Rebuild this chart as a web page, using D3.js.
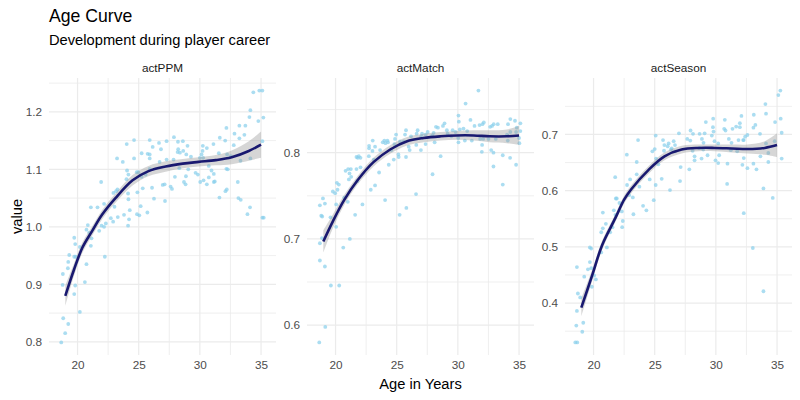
<!DOCTYPE html>
<html>
<head>
<meta charset="utf-8">
<script src="https://cdn.jsdelivr.net/npm/d3@7"></script>
<style>
  body { margin: 0; background: #fff; }
  svg text { font-family: "Liberation Sans", Arial, sans-serif; }
</style>
</head>
<body>
<svg id="chart" width="800" height="400"></svg>
<script>
// facets, in order
const facets = ["actPPM", "actMatch", "actSeason"];

// x ticks (age), shared
const xTicks = [20, 25, 30, 35];

// y ticks per facet (free scales)
const ppmTicks = [0.8, 0.9, 1.0, 1.1, 1.2];
const matchTicks = [0.6, 0.7, 0.8];
const seasonTicks = [0.4, 0.5, 0.6, 0.7];

// scatter: [age, value]
const ppmPoints = [[34.37,1.234],[34.86,1.237],[35.11,1.237],[34.13,1.203],[34.05,1.191],[34.78,1.184],[35.19,1.190],[35.11,1.149],[32.17,1.172],[33.23,1.176],[33.72,1.176],[32.83,1.162],[33.23,1.154],[33.64,1.160],[32.77,1.142],[32.07,1.150],[31.63,1.155],[31.11,1.144],[30.24,1.141],[30.57,1.137],[30.22,1.132],[30.14,1.126],[30.00,1.120],[30.27,1.120],[31.55,1.128],[32.23,1.126],[32.53,1.123],[34.13,1.119],[33.32,1.115],[27.88,1.156],[27.28,1.149],[28.21,1.148],[28.61,1.149],[28.99,1.141],[28.64,1.132],[28.23,1.135],[28.18,1.130],[28.37,1.129],[29.27,1.122],[28.89,1.126],[26.66,1.146],[26.14,1.139],[26.82,1.135],[25.90,1.151],[24.62,1.151],[24.02,1.144],[25.24,1.128],[25.73,1.127],[25.90,1.126],[25.90,1.119],[24.62,1.119],[23.70,1.113],[23.23,1.119],[26.71,1.113],[27.28,1.117],[27.85,1.117],[28.32,1.102],[29.05,1.100],[28.86,1.088],[29.65,1.094],[29.84,1.091],[30.73,1.106],[30.95,1.098],[31.14,1.092],[31.22,1.079],[30.73,1.086],[30.03,1.078],[30.30,1.081],[30.57,1.074],[31.14,1.078],[32.17,1.101],[32.28,1.100],[31.60,1.051],[32.09,1.062],[32.20,1.065],[33.10,1.078],[33.15,1.050],[33.34,1.047],[34.10,1.034],[33.89,1.022],[35.11,1.016],[35.22,1.016],[27.96,1.087],[28.70,1.078],[28.83,1.074],[27.61,1.070],[27.72,1.066],[26.96,1.073],[27.12,1.074],[27.15,1.045],[26.25,1.049],[26.09,1.068],[25.33,1.067],[24.89,1.060],[24.05,1.098],[24.16,1.091],[24.84,1.095],[24.97,1.095],[25.90,1.101],[25.57,1.091],[25.24,1.087],[21.93,1.078],[24.00,1.083],[23.26,1.065],[23.15,1.062],[22.93,1.059],[24.13,1.058],[24.16,1.048],[22.17,1.040],[21.63,1.034],[21.09,1.034],[23.02,1.035],[24.27,1.029],[25.16,1.036],[24.86,1.022],[25.05,1.020],[25.71,1.025],[22.72,1.015],[23.29,1.017],[23.80,1.021],[24.21,1.013],[22.91,1.009],[22.31,1.006],[21.96,1.002],[22.17,1.000],[24.13,1.002],[20.84,1.003],[20.73,0.995],[20.95,0.990],[21.77,0.993],[21.14,0.980],[21.09,0.967],[19.73,0.981],[19.81,0.970],[20.19,0.965],[19.32,0.951],[19.73,0.948],[19.86,0.948],[22.23,0.948],[20.73,0.935],[19.24,0.939],[19.21,0.928],[18.80,0.918],[20.60,0.904],[18.78,0.899],[19.81,0.898],[19.73,0.883],[20.19,0.852],[18.83,0.841],[19.24,0.831],[18.99,0.815],[18.67,0.799]];

const matchPoints = [[31.68,0.872],[30.63,0.857],[30.05,0.843],[30.08,0.836],[31.03,0.838],[28.91,0.834],[28.78,0.831],[28.21,0.830],[28.37,0.829],[30.46,0.828],[30.16,0.827],[30.76,0.825],[31.36,0.831],[31.77,0.832],[32.01,0.833],[32.12,0.835],[32.64,0.830],[32.80,0.831],[32.93,0.833],[33.26,0.833],[34.10,0.833],[34.29,0.839],[34.67,0.837],[35.11,0.834],[34.81,0.829],[34.76,0.824],[35.11,0.825],[35.00,0.817],[35.03,0.811],[34.29,0.824],[34.02,0.821],[34.08,0.814],[33.10,0.816],[32.50,0.816],[32.07,0.816],[31.82,0.816],[31.14,0.814],[30.57,0.814],[30.05,0.812],[30.03,0.817],[29.46,0.819],[29.57,0.826],[29.81,0.824],[29.10,0.826],[29.16,0.822],[28.02,0.823],[27.91,0.820],[27.53,0.824],[27.36,0.821],[27.07,0.822],[27.01,0.819],[26.71,0.826],[26.63,0.822],[26.17,0.819],[25.76,0.826],[25.68,0.821],[24.95,0.821],[24.86,0.816],[24.24,0.814],[23.99,0.814],[23.86,0.812],[24.08,0.811],[24.29,0.812],[24.81,0.810],[25.27,0.813],[25.57,0.813],[25.98,0.807],[26.06,0.803],[26.60,0.809],[26.98,0.803],[27.36,0.810],[28.10,0.812],[28.59,0.796],[27.93,0.775],[26.58,0.752],[25.79,0.736],[25.24,0.728],[24.05,0.745],[22.88,0.757],[23.23,0.762],[23.56,0.777],[24.35,0.786],[24.76,0.792],[25.16,0.795],[25.76,0.795],[25.14,0.798],[24.57,0.803],[23.64,0.803],[23.23,0.807],[22.74,0.808],[22.74,0.805],[23.04,0.814],[23.02,0.802],[23.13,0.792],[22.72,0.796],[22.04,0.783],[21.71,0.781],[21.03,0.781],[21.25,0.781],[20.82,0.779],[21.14,0.776],[21.09,0.769],[21.28,0.772],[21.77,0.767],[20.11,0.765],[20.27,0.763],[20.16,0.757],[19.78,0.755],[19.97,0.753],[18.97,0.747],[19.13,0.741],[18.72,0.739],[20.05,0.740],[20.71,0.748],[22.20,0.740],[21.60,0.728],[18.83,0.727],[18.91,0.726],[19.59,0.725],[21.71,0.795],[21.82,0.794],[21.90,0.796],[22.04,0.794],[31.98,0.809],[31.96,0.801],[32.72,0.803],[32.91,0.800],[33.67,0.797],[34.27,0.794],[34.76,0.786],[32.91,0.784],[33.67,0.763],[20.05,0.714],[18.89,0.701],[18.72,0.695],[21.17,0.700],[20.63,0.690],[18.72,0.675],[19.13,0.668],[19.62,0.646],[20.30,0.646],[19.16,0.598],[18.67,0.580],[21.00,0.743]];

const seasonPoints = [[35.27,0.778],[35.11,0.770],[34.05,0.754],[34.10,0.737],[35.30,0.728],[35.38,0.703],[34.84,0.722],[33.10,0.735],[33.23,0.717],[33.07,0.712],[32.09,0.733],[31.96,0.720],[31.96,0.713],[31.66,0.714],[31.36,0.710],[30.79,0.707],[30.68,0.710],[30.73,0.726],[29.78,0.728],[29.18,0.722],[29.76,0.713],[29.81,0.705],[29.67,0.698],[29.08,0.702],[28.67,0.701],[28.13,0.701],[27.93,0.707],[27.91,0.689],[27.66,0.692],[26.98,0.702],[28.86,0.692],[28.99,0.685],[29.89,0.688],[30.19,0.684],[31.06,0.692],[31.28,0.685],[31.85,0.690],[32.23,0.690],[32.58,0.699],[32.39,0.696],[32.28,0.690],[33.61,0.701],[34.10,0.684],[34.29,0.667],[34.29,0.651],[34.81,0.688],[35.38,0.657],[33.64,0.661],[33.07,0.648],[33.32,0.638],[32.58,0.640],[32.17,0.646],[32.28,0.658],[31.74,0.670],[31.22,0.672],[30.95,0.648],[30.92,0.612],[30.19,0.649],[29.97,0.654],[30.27,0.663],[29.32,0.663],[28.83,0.657],[28.26,0.654],[28.26,0.661],[28.97,0.673],[28.64,0.676],[28.10,0.671],[27.83,0.638],[27.12,0.642],[27.07,0.617],[26.25,0.601],[26.66,0.670],[26.39,0.675],[26.66,0.681],[26.55,0.688],[26.14,0.684],[26.06,0.679],[25.76,0.671],[25.68,0.690],[25.08,0.698],[25.00,0.674],[24.81,0.670],[25.11,0.657],[25.30,0.647],[25.57,0.621],[24.59,0.620],[25.08,0.610],[24.92,0.583],[24.32,0.565],[24.05,0.573],[23.75,0.607],[23.53,0.629],[23.53,0.651],[23.64,0.690],[22.72,0.664],[22.99,0.620],[22.74,0.610],[21.77,0.624],[21.82,0.586],[21.90,0.586],[22.12,0.578],[22.91,0.592],[23.21,0.588],[23.26,0.558],[22.39,0.546],[20.76,0.561],[21.66,0.565],[21.79,0.557],[32.28,0.560],[33.89,0.604],[34.65,0.587],[25.79,0.681],[26.33,0.673],[22.34,0.535],[21.55,0.535],[20.76,0.533],[21.01,0.541],[20.63,0.526],[21.36,0.526],[21.09,0.499],[19.70,0.499],[19.81,0.497],[20.63,0.490],[19.70,0.473],[18.64,0.464],[19.54,0.460],[19.81,0.462],[19.24,0.447],[20.05,0.449],[20.19,0.442],[19.86,0.429],[18.72,0.417],[18.91,0.410],[18.64,0.386],[19.16,0.365],[18.59,0.360],[19.08,0.349],[18.51,0.330],[18.67,0.330],[33.02,0.498],[33.89,0.421],[22.31,0.563]];

// smoother (loess fit): age, fit, half-width of the band
const ppmSmoothAge = [19, 19.7, 20.4, 21.2, 22, 23.1, 24.5, 25.8, 27.2, 28.6, 29.9, 31.3, 32.6, 34, 35];
const ppmFit = [0.880, 0.925, 0.964, 0.993, 1.021, 1.050, 1.081, 1.097, 1.105, 1.110, 1.113, 1.116, 1.121, 1.132, 1.143];
const ppmSe = [0.018, 0.011, 0.009, 0.008, 0.008, 0.008, 0.009, 0.009, 0.009, 0.008, 0.008, 0.009, 0.012, 0.017, 0.023];

const matchSmoothAge = [19, 19.8, 20.7, 21.8, 23.1, 24.5, 25.8, 27.2, 28.6, 29.9, 31.3, 32.6, 34, 35];
const matchFit = [0.697, 0.721, 0.745, 0.768, 0.789, 0.804, 0.813, 0.817, 0.819, 0.820, 0.820, 0.819, 0.819, 0.820];
const matchSe = [0.013, 0.008, 0.006, 0.005, 0.005, 0.005, 0.005, 0.005, 0.005, 0.005, 0.006, 0.007, 0.008, 0.011];

const seasonSmoothAge = [19, 19.9, 20.7, 21.8, 22.5, 23.1, 24.5, 25.8, 27.2, 28.6, 29.9, 31.3, 32.6, 34, 35];
const seasonFit = [0.392, 0.450, 0.503, 0.552, 0.584, 0.603, 0.637, 0.661, 0.673, 0.676, 0.676, 0.675, 0.674, 0.676, 0.681];
const seasonSe = [0.016, 0.010, 0.008, 0.007, 0.007, 0.007, 0.007, 0.007, 0.007, 0.006, 0.006, 0.007, 0.008, 0.012, 0.021];

const panels = [
  {name: facets[0], points: ppmPoints, ticks: ppmTicks, sAge: ppmSmoothAge, fit: ppmFit, se: ppmSe},
  {name: facets[1], points: matchPoints, ticks: matchTicks, sAge: matchSmoothAge, fit: matchFit, se: matchSe},
  {name: facets[2], points: seasonPoints, ticks: seasonTicks, sAge: seasonSmoothAge, fit: seasonFit, se: seasonSe}
];

const layout = {left: 49, right: 792, top: 78, bottom: 355, gap: 31};
const panelW = (layout.right - layout.left - 2 * layout.gap) / 3;

const grid = "#ebebeb";
const pointColor = "#87ceeb";
const lineColor = "#191970";
const base = 14.7;

// ggplot-like 5% expansion
function expand(ext) {
  let pad = (ext[1] - ext[0]) * 0.05;
  return [ext[0] - pad, ext[1] + pad];
}

function minorOf(ticks, domain) {
  let step = ticks[1] - ticks[0];
  let out = [];
  for (let t = ticks[0] - step / 2; t <= domain[1]; t += step) {
    if (t >= domain[0]) out.push(t);
  }
  return out;
}

const allAges = panels.flatMap(p => p.points.map(d => d[0]));
const xDomain = expand(d3.extent(allAges));

const svg = d3.select("#chart");

svg.append("text")
  .attr("x", layout.left).attr("y", 22)
  .attr("font-size", (base * 1.2) + "px").attr("fill", "#000")
  .text("Age Curve");

svg.append("text")
  .attr("x", layout.left).attr("y", 45)
  .attr("font-size", base + "px").attr("fill", "#000")
  .text("Development during player career");

panels.forEach(function(p, i) {
  let x0 = layout.left + i * (panelW + layout.gap);
  let x = d3.scaleLinear().domain(xDomain).range([x0, x0 + panelW]);
  let yDomain = expand(d3.extent(p.points, d => d[1]));
  let y = d3.scaleLinear().domain(yDomain).range([layout.bottom, layout.top]);

  let g = svg.append("g").attr("class", "panel");

  // minor grid
  g.selectAll("line.xminor").data(minorOf(xTicks, xDomain)).join("line")
    .attr("x1", d => x(d)).attr("x2", d => x(d))
    .attr("y1", layout.top).attr("y2", layout.bottom)
    .attr("stroke", grid).attr("stroke-width", 0.8);
  g.selectAll("line.yminor").data(minorOf(p.ticks, yDomain)).join("line")
    .attr("x1", x0).attr("x2", x0 + panelW)
    .attr("y1", d => y(d)).attr("y2", d => y(d))
    .attr("stroke", grid).attr("stroke-width", 0.8);

  // major grid
  g.selectAll("line.xmajor").data(xTicks).join("line")
    .attr("x1", d => x(d)).attr("x2", d => x(d))
    .attr("y1", layout.top).attr("y2", layout.bottom)
    .attr("stroke", grid).attr("stroke-width", 1.2);
  g.selectAll("line.ymajor").data(p.ticks).join("line")
    .attr("x1", x0).attr("x2", x0 + panelW)
    .attr("y1", d => y(d)).attr("y2", d => y(d))
    .attr("stroke", grid).attr("stroke-width", 1.2);

  // axes (labels only, as in theme_minimal)
  let ax = svg.append("g")
    .attr("transform", `translate(${x0 - 2},0)`)
    .call(d3.axisLeft(y).tickValues(p.ticks).tickFormat(d3.format(".1f")).tickSize(0).tickPadding(5));
  ax.select(".domain").remove();
  ax.selectAll("text")
    .attr("fill", "#4d4d4d").attr("font-size", (base * 0.8) + "px")
    .attr("font-family", "Liberation Sans, Arial, sans-serif");

  let bx = svg.append("g")
    .attr("transform", `translate(0,${layout.bottom + 1})`)
    .call(d3.axisBottom(x).tickValues(xTicks).tickFormat(d3.format("d")).tickSize(0).tickPadding(5));
  bx.select(".domain").remove();
  bx.selectAll("text")
    .attr("fill", "#4d4d4d").attr("font-size", (base * 0.8) + "px")
    .attr("font-family", "Liberation Sans, Arial, sans-serif");

  // strip label
  svg.append("text")
    .attr("x", x0 + panelW / 2).attr("y", 72)
    .attr("text-anchor", "middle")
    .attr("font-size", (base * 0.8) + "px").attr("fill", "#1a1a1a")
    .text(p.name);

  // points
  g.selectAll("circle").data(p.points).join("circle")
    .attr("cx", d => x(d[0])).attr("cy", d => y(d[1]))
    .attr("r", 1.9)
    .attr("fill", pointColor).attr("fill-opacity", 0.7);

  // smoother
  let smooth = p.sAge.map((a, k) => ({age: a, fit: p.fit[k], se: p.se[k]}));
  let band = d3.area()
    .curve(d3.curveCatmullRom.alpha(0.5))
    .x(d => x(d.age))
    .y0(d => y(d.fit - d.se))
    .y1(d => y(d.fit + d.se));
  g.append("path").datum(smooth)
    .attr("d", band)
    .attr("fill", "#999999").attr("fill-opacity", 0.4);

  let line = d3.line()
    .curve(d3.curveCatmullRom.alpha(0.5))
    .x(d => x(d.age))
    .y(d => y(d.fit));
  g.append("path").datum(smooth)
    .attr("d", line)
    .attr("fill", "none")
    .attr("stroke", lineColor).attr("stroke-width", 2.6);
});

svg.append("text")
  .attr("x", (layout.left + layout.right) / 2).attr("y", 389)
  .attr("text-anchor", "middle")
  .attr("font-size", base + "px").attr("fill", "#000")
  .text("Age in Years");

svg.append("text")
  .attr("transform", `translate(22,${(layout.top + layout.bottom) / 2}) rotate(-90)`)
  .attr("text-anchor", "middle")
  .attr("font-size", base + "px").attr("fill", "#000")
  .text("value");
</script>
</body>
</html>
